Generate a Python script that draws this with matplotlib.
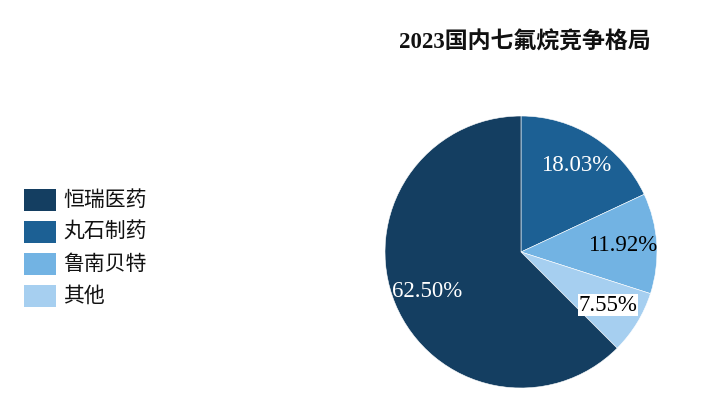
import matplotlib.pyplot as plt
import matplotlib.patches as mpatches

plt.rcParams['font.family'] = ['Liberation Serif', 'Noto Sans CJK SC']

# slices in drawing order (clockwise from 12 o'clock)
pie_labels = ["丸石制药", "鲁南贝特", "其他", "恒瑞医药"]
pie_values = [18.03, 11.92, 7.55, 62.50]
pie_colors = ["#1c6094", "#72b3e3", "#a6cff0", "#143e61"]
pct_colors = ["white", "black", "black", "white"]

# legend order
legend_labels = ["恒瑞医药", "丸石制药", "鲁南贝特", "其他"]

W, H = 719, 411
fig = plt.figure(figsize=(W / 100, H / 100), dpi=100)
fig.patch.set_facecolor("white")

# pie axes: centre (521, 252) px, radius 136 px
cx, cy, r = 521, 252, 136
ax = fig.add_axes([(cx - r) / W, (H - cy - r) / H, 2 * r / W, 2 * r / H])
wedges, texts, autotexts = ax.pie(
    pie_values, colors=pie_colors, startangle=90, counterclock=False,
    autopct=lambda p: f"{p:.2f}%", pctdistance=0.75,
    wedgeprops=dict(edgecolor="white", linewidth=0.4),
    textprops=dict(fontsize=16.5, family="Liberation Serif"),
)
for t, c in zip(autotexts, pct_colors):
    t.set_color(c)
autotexts[2].set_bbox(dict(facecolor="white", edgecolor="none", pad=0.5))
ax.set_xlim(-1, 1)
ax.set_ylim(-1, 1)
ax.set_aspect("equal")
ax.axis("off")

fig.text(cx / W + 0.005, 1 - 42 / H, "2023国内七氟烷竞争格局", ha="center", va="center",
         fontsize=16.5, fontweight="bold", color="#111111")

# legend (manual)
color_of = dict(zip(pie_labels, pie_colors))
for i, name in enumerate(legend_labels):
    yc = 200 + i * 32
    rect = mpatches.Rectangle((24 / W, 1 - (yc + 11) / H), 32 / W, 22 / H,
                              facecolor=color_of[name], edgecolor="none",
                              transform=fig.transFigure)
    fig.add_artist(rect)
    fig.text(63 / W, 1 - yc / H, name, ha="left", va="center",
             fontsize=15, color="#111111", family="Noto Sans CJK SC")

fig.savefig("out.png", dpi=100, facecolor="white")
